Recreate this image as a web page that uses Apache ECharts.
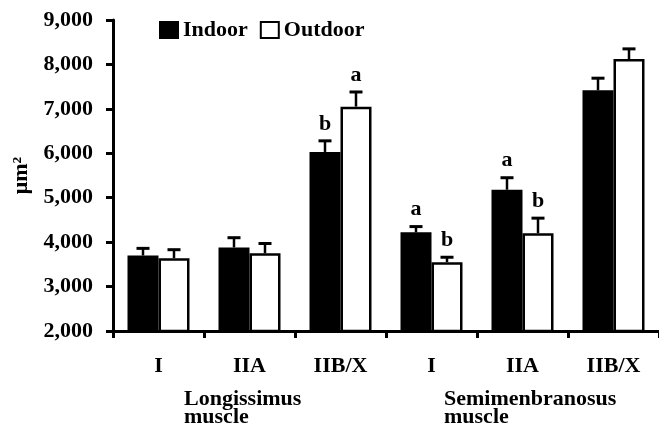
<!DOCTYPE html>
<html><head><meta charset="utf-8">
<script src="https://cdn.jsdelivr.net/npm/echarts@6/dist/echarts.min.js"></script>
<style>html,body{margin:0;padding:0;background:#fff}#c{width:659px;height:423px}</style>
</head><body><div id="c"></div>
<script>
const categories = ['I', 'IIA', 'IIB/X', 'I', 'IIA', 'IIB/X'];
const indoor = [3700, 3880, 6030, 4220, 5180, 7420];
const indoorErr = [160, 220, 250, 130, 270, 270];
const outdoor = [3640, 3750, 7050, 3550, 4200, 8120];
const outdoorErr = [190, 220, 330, 110, 340, 230];
const indoorLetters = ['', '', 'b', 'a', 'a', ''];
const outdoorLetters = ['', '', 'a', 'b', 'b', ''];
const groupLabels = ['Longissimus\nmuscle', 'Semimenbranosus\nmuscle'];
const yMin = 2000, yMax = 9000, yStep = 1000;

const FONT = '"Liberation Serif", "Times New Roman", serif';
const FS = 22;
const BAR_W = 31;

function fmt(v) { return String(v).replace(/\B(?=(\d{3})+(?!\d))/g, ','); }

function errSeries(name, vals, errs, letters, sign) {
  return {
    type: 'custom', name: name + ' error', z: 5, silent: true,
    data: vals.map((v, i) => [i, v, v + errs[i]]),
    renderItem(params, api) {
      const i = api.value(0);
      const base = api.coord([i, api.value(1)]);
      const top = api.coord([i, api.value(2)]);
      const x = base[0] + sign * BAR_W / 2;
      const children = [
        { type: 'line', shape: { x1: x, y1: base[1], x2: x, y2: top[1] }, style: { stroke: '#000', lineWidth: 2.5 } },
        { type: 'line', shape: { x1: x - 6.5, y1: top[1], x2: x + 6.5, y2: top[1] }, style: { stroke: '#000', lineWidth: 3 } }
      ];
      const letter = letters[params.dataIndex];
      if (letter) {
        children.push({ type: 'text', x: x, y: top[1] - 17,
          style: { text: letter, fontFamily: FONT, fontWeight: 'bold', fontSize: FS, align: 'center', verticalAlign: 'middle', fill: '#000' } });
      }
      return { type: 'group', children };
    }
  };
}

const chart = echarts.init(document.getElementById('c'), null, { renderer: 'canvas' });
chart.setOption({
  animation: false,
  backgroundColor: '#fff',
  textStyle: { fontFamily: FONT },
  grid: { left: 113, top: 20, width: 548, bottom: 92, containLabel: false },
  legend: {
    data: ['Indoor', 'Outdoor'], left: 159, top: 19, padding: 0, itemGap: 12,
    icon: 'rect', itemWidth: 18, itemHeight: 16,
    textStyle: { fontFamily: FONT, fontWeight: 'bold', fontSize: FS, color: '#000' }
  },
  xAxis: {
    type: 'category', data: categories,
    axisLine: { lineStyle: { color: '#000', width: 3 } },
    axisTick: { show: true, alignWithLabel: false, interval: 0, length: 7, lineStyle: { color: '#000', width: 3 } },
    axisLabel: { interval: 0, margin: 24, color: '#000', fontFamily: FONT, fontWeight: 'bold', fontSize: FS },
    splitLine: { show: false }
  },
  yAxis: {
    type: 'value', min: yMin, max: yMax, interval: yStep,
    name: 'μm²', nameLocation: 'middle', nameRotate: 90, nameGap: 72,
    nameTextStyle: { color: '#000', fontFamily: FONT, fontWeight: 'bold', fontSize: FS },
    axisLine: { show: true, lineStyle: { color: '#000', width: 3 } },
    axisTick: { show: true, length: 7, lineStyle: { color: '#000', width: 3 } },
    axisLabel: { margin: 20, color: '#000', fontFamily: FONT, fontWeight: 'bold', fontSize: FS, formatter: fmt },
    splitLine: { show: false }
  },
  series: [
    { type: 'bar', name: 'Indoor', data: indoor, barWidth: BAR_W, barGap: '0%',
      itemStyle: { color: '#000', borderColor: '#000', borderWidth: 2.5 } },
    { type: 'bar', name: 'Outdoor', data: outdoor, barWidth: BAR_W, barGap: '0%',
      itemStyle: { color: '#fff', borderColor: '#000', borderWidth: 2.5 } },
    errSeries('Indoor', indoor, indoorErr, indoorLetters, -1),
    errSeries('Outdoor', outdoor, outdoorErr, outdoorLetters, 1)
  ],
  graphic: [
    { type: 'text', left: 184, top: 388, style: { text: groupLabels[0], fontFamily: FONT, fontWeight: 'bold', fontSize: FS, lineHeight: 18, fill: '#000' } },
    { type: 'text', left: 444, top: 388, style: { text: groupLabels[1], fontFamily: FONT, fontWeight: 'bold', fontSize: FS, lineHeight: 18, fill: '#000' } }
  ]
});
</script></body></html>
